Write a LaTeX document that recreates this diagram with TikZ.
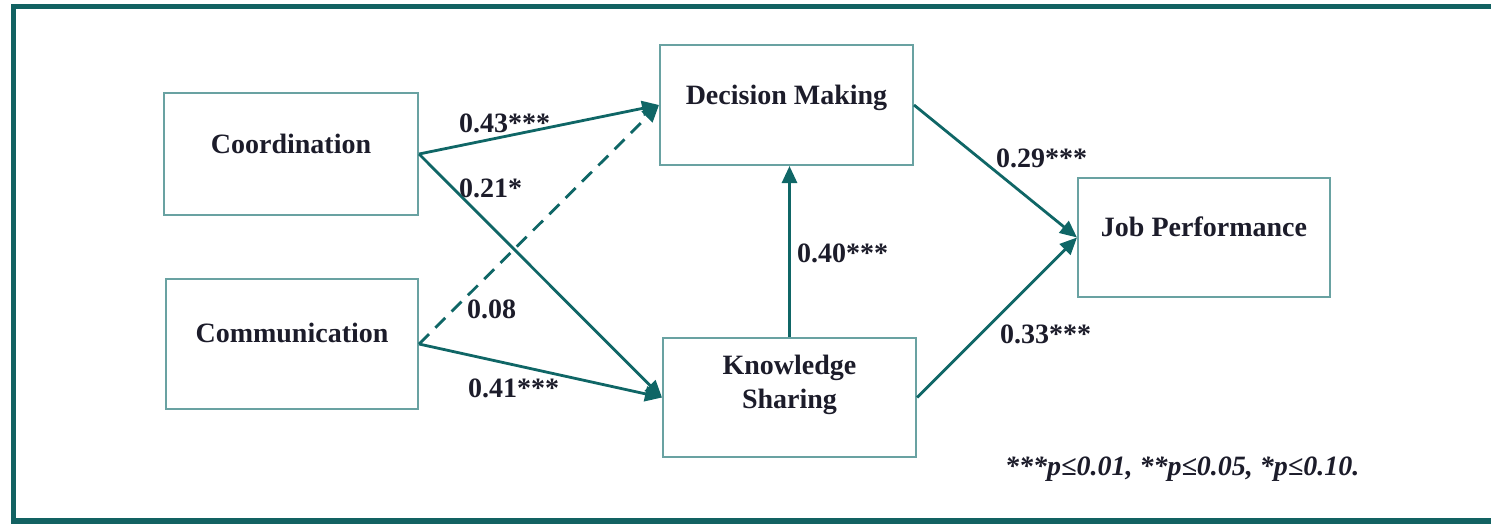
\documentclass[tikz,border=0pt]{standalone}
\usepackage{fontspec}
\setmainfont{Liberation Serif}
\usetikzlibrary{arrows.meta}

\definecolor{frameteal}{RGB}{18,98,98}
\definecolor{boxteal}{RGB}{105,162,162}
\definecolor{arrowteal}{RGB}{15,102,102}
\definecolor{ink}{RGB}{28,28,42}

\begin{document}
\begin{tikzpicture}[x=1pt,y=-1pt,
  varbox/.style={draw=boxteal, line width=2pt, inner sep=0pt},
  vartext/.style={text=ink, inner sep=0pt, font=\fontsize{28}{33.5}\selectfont\bfseries, align=center},
  coef/.style={text=ink, inner sep=0pt, anchor=base west, font=\fontsize{28}{33.5}\selectfont\bfseries},
  path/.style={draw=arrowteal, line width=2.8pt, -{Triangle[length=17pt,width=15pt]}},
  nspath/.style={path, dash pattern=on 14pt off 9pt}
]
\clip (0,0) rectangle (1491,523);

% outer frame (right side runs past the page edge)
\draw[frameteal, line width=5.5pt] (13.5,6.5) rectangle (1510,521);

% constructs
\node[varbox, minimum width=254pt, minimum height=122pt] (coord) at (291,154) {};
\node[varbox, minimum width=252pt, minimum height=130pt] (comm)  at (292,344) {};
\node[varbox, minimum width=253pt, minimum height=120pt] (dm)    at (786.5,105) {};
\node[varbox, minimum width=253pt, minimum height=119pt] (ks)    at (789.5,397.5) {};
\node[varbox, minimum width=252pt, minimum height=119pt] (jp)    at (1204,237.5) {};

\node[vartext, anchor=base] (coordT) at (291,153) {Coordination};
\node[vartext, anchor=base] (commT)  at (292,342) {Communication};
\node[vartext, anchor=base] (dmT)    at (786.5,104) {Decision Making};
\node[vartext]              (ksT)    at (789.5,385) {Knowledge\\Sharing};
\node[vartext, anchor=base] (jpT)    at (1204,236) {Job Performance};

% structural paths
\draw[path]   (coord.east) -- (dm.west);
\draw[path]   (coord.east) -- (ks.west);
\draw[nspath] (comm.east)  -- (dm.west);
\draw[path]   (comm.east)  -- (ks.west);
\draw[path]   (ks.north)   -- (ks.north |- dm.south);
\draw[path]   (dm.east)    -- (jp.west);
\draw[path]   (ks.east)    -- (jp.west);

% path coefficients
\node[coef] (c43) at (459,132) {0.43***};
\node[coef] (c21) at (459,197) {0.21*};
\node[coef] (c08) at (467,318) {0.08};
\node[coef] (c41) at (468,397) {0.41***};
\node[coef] (c40) at (797,262) {0.40***};
\node[coef] (c29) at (996,167) {0.29***};
\node[coef] (c33) at (1000,343) {0.33***};

% significance note
\node[coef, font=\fontsize{28}{33.5}\selectfont\bfseries\itshape] (note) at (1005,475)
  {***p≤0.01, **p≤0.05, *p≤0.10.};
\end{tikzpicture}
\end{document}
